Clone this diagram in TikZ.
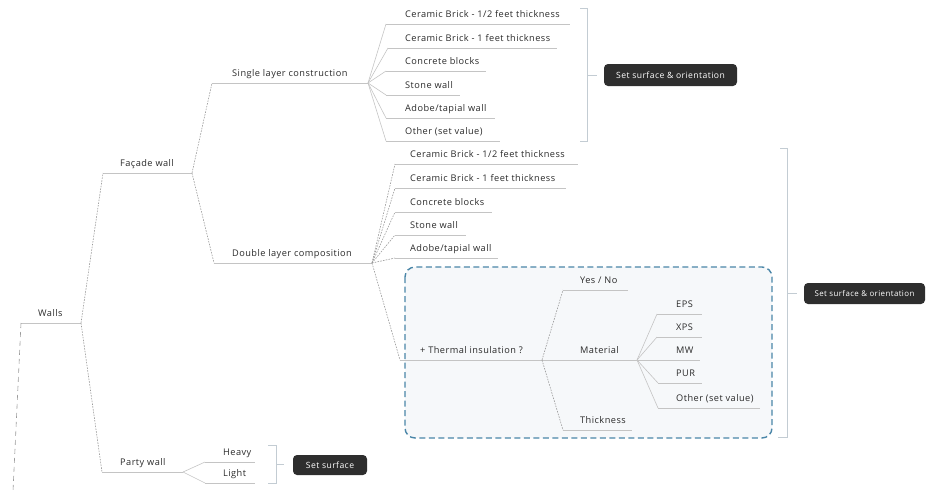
\documentclass[tikz,border=0pt]{standalone}
\usepackage{fontspec}
\setmainfont{Open Sans}[LetterSpace=5]
\usetikzlibrary{calc}
\definecolor{txt}{HTML}{2A2A2A}
\definecolor{uln}{HTML}{C4C4C4}
\definecolor{con}{HTML}{9A9A9A}
\definecolor{brk}{HTML}{C3CCD3}
\definecolor{dbox}{HTML}{2E2E2E}
\definecolor{frame}{HTML}{4A86A8}
\definecolor{framefill}{HTML}{F6F8FA}
\tikzset{
  lbl/.style={anchor=base west,inner sep=0pt,text=txt,font=\fontsize{9.2}{11}\selectfont},
  uline/.style={draw=uln,line width=0.8pt},
  dcon/.style={draw=con,line width=0.6pt,dash pattern=on 1.6pt off 1.2pt},
  scon/.style={draw=uln,line width=0.6pt},
  rootcon/.style={draw=con,line width=0.6pt,dash pattern=on 5pt off 4pt},
  brack/.style={draw=brk,line width=0.8pt},
  darkbox/.style={fill=dbox,text=white,rounded corners=4pt,inner sep=0pt,font=\fontsize{8.6}{11}\selectfont},
  tframe/.style={draw=frame,line width=1.4pt,dash pattern=on 6pt off 3.5pt,rounded corners=10pt,fill=framefill}
}
% leaf: name, underline x start, underline x end, underline y, text x, text
\newcommand\leafitem[6]{%
  \coordinate (#1s) at (#2,#4);
  \coordinate (#1e) at (#3,#4);
  \draw[uline] (#1s) -- (#1e);
  \node[lbl] (#1) at (#5,#4-6.5) {#6};
}
\begin{document}
\begin{tikzpicture}[x=1pt,y=-1pt]
\useasboundingbox (0,0) rectangle (931,491);
% frame around thermal insulation
\draw[tframe] (405,267) rectangle (772,438);
% level 0 / 1 / 2
\leafitem{walls}{21}{81}{323}{38}{Walls}
\coordinate (rootend) at (13,491);
\draw[rootcon] (wallss) -- (rootend);
\leafitem{facade}{103}{192}{173}{120}{Façade wall}
\leafitem{party}{102}{183}{472}{120}{Party wall}
\draw[dcon] (wallse) -- (facades);
\draw[dcon] (wallse) -- (partys);
\leafitem{single}{212}{368}{83}{232}{Single layer construction}
\leafitem{double}{214}{372}{263}{232}{Double layer composition}
\draw[dcon] (facadee) -- (singles);
\draw[dcon] (facadee) -- (doubles);
% single layer children
\leafitem{sa}{386}{570}{24}{405}{Ceramic Brick - 1/2 feet thickness}
\leafitem{sb}{388}{557}{48}{405}{Ceramic Brick - 1 feet thickness}
\leafitem{sc}{386}{486}{71}{405}{Concrete blocks}
\leafitem{sd}{386}{460}{95}{405}{Stone wall}
\leafitem{se}{386}{495}{118}{405}{Adobe/tapial wall}
\leafitem{sf}{386}{500}{141}{405}{Other (set value)}
\foreach \n in {sa,sb,sc,sd,se,sf}{\draw[scon] (singlee) -- (\n s);}
% double layer children
\leafitem{da}{395}{578}{164}{410}{Ceramic Brick - 1/2 feet thickness}
\leafitem{db}{395}{566}{188}{410}{Ceramic Brick - 1 feet thickness}
\leafitem{dc}{395}{492}{212}{410}{Concrete blocks}
\leafitem{dd}{395}{466}{235}{410}{Stone wall}
\leafitem{de}{395}{498}{258}{410}{Adobe/tapial wall}
\leafitem{th}{400}{542}{360}{420}{+ Thermal insulation ?}
\foreach \n in {da,db,dc,dd,de,th}{\draw[dcon] (doublee) -- (\n s);}
% thermal children
\leafitem{yn}{563}{628}{290}{580}{Yes / No}
\leafitem{mat}{542}{637}{360}{580}{Material}
\leafitem{thk}{563}{632}{430}{580}{Thickness}
\draw[dcon] (the) -- (yns);
\draw[dcon] (the) -- (thks);
% material children
\leafitem{eps}{657}{702}{314}{676}{EPS}
\leafitem{xps}{657}{702}{337}{676}{XPS}
\leafitem{mw}{657}{700}{360}{676}{MW}
\leafitem{pur}{658}{702}{383}{676}{PUR}
\leafitem{oth}{658}{760}{408}{676}{Other (set value)}
\foreach \n in {eps,xps,mw,pur,oth}{\draw[scon] (mate) -- (\n s);}
% party wall children
\leafitem{hv}{205}{255}{462}{223}{Heavy}
\leafitem{lt}{205}{255}{483}{223}{Light}
\draw[scon] (partye) -- (hvs);
\draw[scon] (partye) -- (lts);
% brackets and dark boxes
\coordinate (b1t) at (587,8); \coordinate (b1b) at (587,141); \coordinate (b1m) at (587,75);
\draw[brack] (580,8) -- (b1t) -- (b1b) -- (580,141);
\node[darkbox,minimum width=133pt,minimum height=22pt] (box1) at (670.5,75) {Set surface \& orientation};
\draw[brack] (b1m) -- ++(10,0);
\coordinate (b2t) at (787,148); \coordinate (b2b) at (787,437); \coordinate (b2m) at (787,293);
\draw[brack] (780,148) -- (b2t) -- (b2b) -- (778,437);
\node[darkbox,minimum width=121pt,minimum height=21pt,font=\fontsize{7.9}{10}\selectfont] (box2) at (864.5,293.5) {Set surface \& orientation};
\draw[brack] (b2m) -- ++(10,0);
\coordinate (b3t) at (276,445); \coordinate (b3b) at (276,483); \coordinate (b3m) at (276,464);
\draw[brack] (268,445) -- (b3t) -- (b3b) -- (268,483);
\node[darkbox,minimum width=74pt,minimum height=20pt] (box3) at (330,465) {Set surface};
\draw[brack] (b3m) -- ++(8,0);
\end{tikzpicture}
\end{document}
